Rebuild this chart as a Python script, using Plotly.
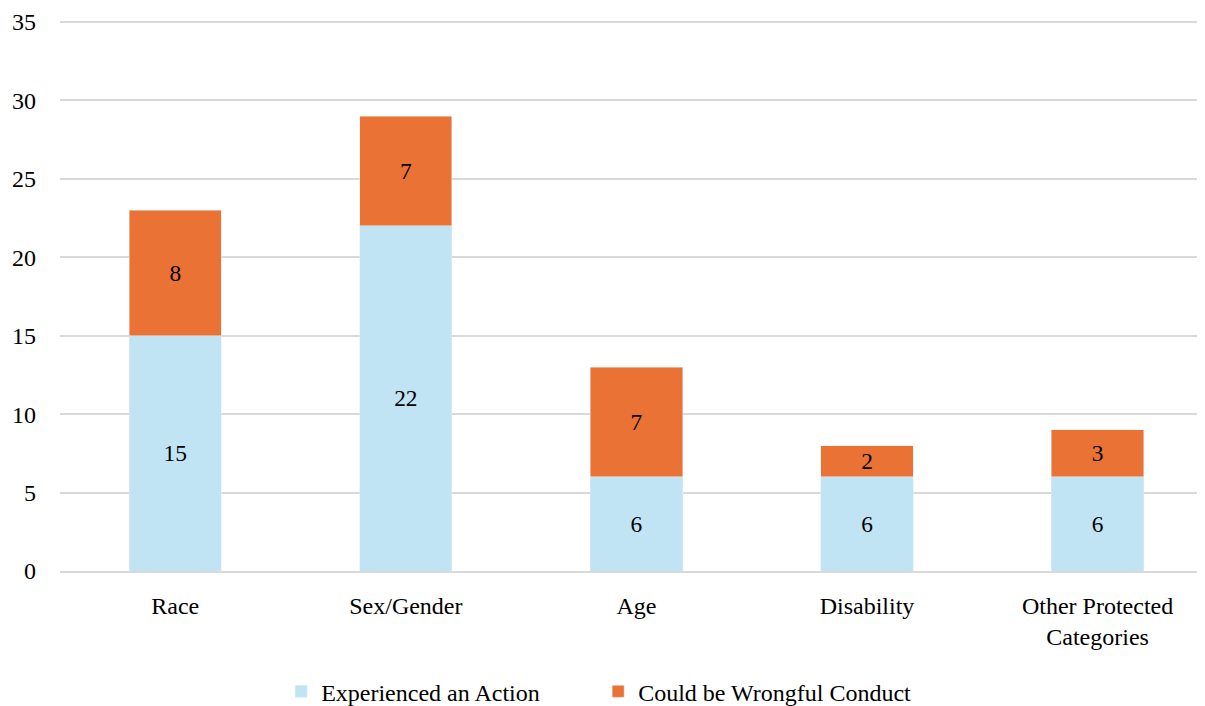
import plotly.graph_objects as go

categories = ["Race", "Sex/Gender", "Age", "Disability", "Other Protected<br>Categories"]
experienced = [15, 22, 6, 6, 6]
wrongful = [8, 7, 7, 2, 3]
y_ticks = [0, 5, 10, 15, 20, 25, 30, 35]

serif = "Palatino Linotype, Book Antiqua, Liberation Serif, serif"

fig = go.Figure()
fig.add_trace(go.Bar(
	x=categories, y=experienced, name="Experienced an Action",
	marker_color="#C1E4F4", text=experienced, textposition="inside", textangle=0,
	insidetextanchor="middle", textfont=dict(color="black", size=24, family=serif),
))
fig.add_trace(go.Bar(
	x=categories, y=wrongful, name="Could be Wrongful Conduct",
	marker_color="#EA7234", text=wrongful, textposition="inside", textangle=0,
	insidetextanchor="middle", textfont=dict(color="black", size=24, family=serif),
))
# page body adds 8px offset, so the figure is drawn 8px smaller
fig.update_layout(
	barmode="stack",
	bargap=0.6,
	width=1197, height=698,
	margin=dict(l=52, r=0, t=9, b=135, autoexpand=False),
	paper_bgcolor="white",
	plot_bgcolor="white",
	font=dict(family=serif, size=24, color="black"),
	uniformtext=dict(minsize=12, mode="show"),
	legend=dict(orientation="h", x=0.47, xanchor="center", y=-0.218,
		yanchor="middle", font=dict(size=24), traceorder="normal", entrywidth=272),
	yaxis=dict(range=[0, 35.32], tickvals=y_ticks, showgrid=True, gridcolor="#D9D9D9",
		gridwidth=1.5, zeroline=False, ticks="", ticklabelstandoff=23,
		tickfont=dict(size=24)),
	xaxis=dict(range=[-0.5, 4.466], showline=True, linecolor="#D9D9D9", linewidth=1.5,
		ticks="", ticklabelstandoff=12, tickfont=dict(size=24)),
)
fig.write_html("out.html")
